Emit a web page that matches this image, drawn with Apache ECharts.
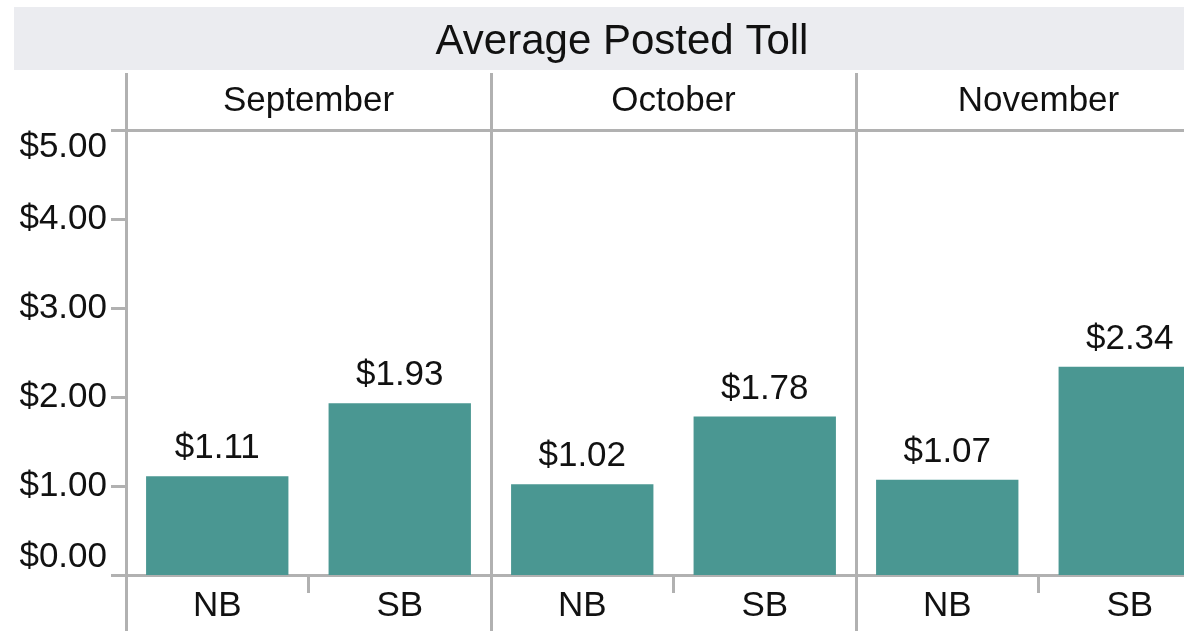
<!DOCTYPE html>
<html>
<head>
<meta charset="utf-8">
<script src="https://cdn.jsdelivr.net/npm/echarts@6/dist/echarts.min.js"></script>
<style>
  html, body { margin: 0; padding: 0; background: #fff; }
  #chart { width: 1184px; height: 631px; }
</style>
</head>
<body>
<div id="chart"></div>
<script>
// data
const months = ['September', 'October', 'November'];
const directions = ['NB', 'SB'];
const nbToll = [1.11, 1.02, 1.07];
const sbToll = [1.93, 1.78, 2.34];
const yMin = 0;
const yMax = 5;
const yStep = 1;

const FONT = '"Liberation Sans", Arial, sans-serif';
const LINE = '#b1b1b1';
const BAR = '#4a9792';
const TEXT = '#111';

const panelLeft = [126, 491, 856];
const panelWidth = 365;

const money = v => '$' + Number(v).toFixed(2);

const myChart = echarts.init(document.getElementById('chart'));

const grid = [], xAxis = [], yAxis = [], series = [];
months.forEach((m, i) => {
    grid.push({
        left: panelLeft[i], width: panelWidth, top: 130, bottom: 56,
        outerBoundsMode: 'none', containLabel: false
    });

    // NB / SB categories along the bottom
    xAxis.push({
        type: 'category', gridIndex: i, data: directions, position: 'bottom',
        axisLine: { lineStyle: { color: LINE, width: 3 } },
        axisTick: { show: true, interval: 0, length: 18, lineStyle: { color: LINE, width: 3 } },
        axisLabel: { fontFamily: FONT, fontSize: 35, color: TEXT, margin: 14 }
    });
    // month header on top
    xAxis.push({
        type: 'category', gridIndex: i, data: [m], position: 'top',
        axisLine: { lineStyle: { color: LINE, width: 3 } },
        axisTick: { show: false },
        axisLabel: { fontFamily: FONT, fontSize: 35, color: TEXT, margin: 11 }
    });
    // panel dividers above and below the plot, drawn as edge ticks
    ['top', 'bottom'].forEach(pos => {
        xAxis.push({
            type: 'value', gridIndex: i, min: 0, max: 1, interval: 1, position: pos,
            splitLine: { show: false },
            axisLine: { show: false },
            axisTick: { length: pos === 'top' ? 57 : 56, lineStyle: { color: LINE, width: 3 } },
            axisLabel: { show: false }
        });
    });

    yAxis.push({
        type: 'value', gridIndex: i, min: yMin, max: yMax, interval: yStep,
        splitLine: { show: false },
        axisLine: { show: true, lineStyle: { color: LINE, width: 3 } },
        axisTick: { show: i === 0, length: 15, lineStyle: { color: LINE, width: 3 } },
        axisLabel: {
            show: i === 0, fontFamily: FONT, fontSize: 35, color: TEXT, margin: 19,
            formatter: money,
            verticalAlignMinLabel: 'bottom',
            verticalAlignMaxLabel: 'top'
        }
    });

    series.push({
        type: 'bar', xAxisIndex: i * 4, yAxisIndex: i,
        data: [nbToll[i], sbToll[i]],
        barCategoryGap: '22%',
        itemStyle: { color: BAR },
        label: {
            show: true, position: 'top', distance: 10,
            fontFamily: FONT, fontSize: 35, color: TEXT,
            formatter: p => money(p.value)
        }
    });
});

const option = {
    animation: false,
    title: {
        text: 'Average Posted Toll',
        left: 617, top: 16, textAlign: 'center',
        textStyle: { fontFamily: FONT, fontSize: 42, fontWeight: 'normal', color: TEXT }
    },
    graphic: [{
        type: 'rect', z: -10, silent: true,
        shape: { x: 14, y: 7, width: 1210, height: 63 },
        style: { fill: '#ebecf0' }
    }],
    grid: grid,
    xAxis: xAxis,
    yAxis: yAxis,
    series: series
};

myChart.setOption(option);
window.addEventListener('resize', () => {
    myChart.resize();
});
</script>
</body>
</html>
